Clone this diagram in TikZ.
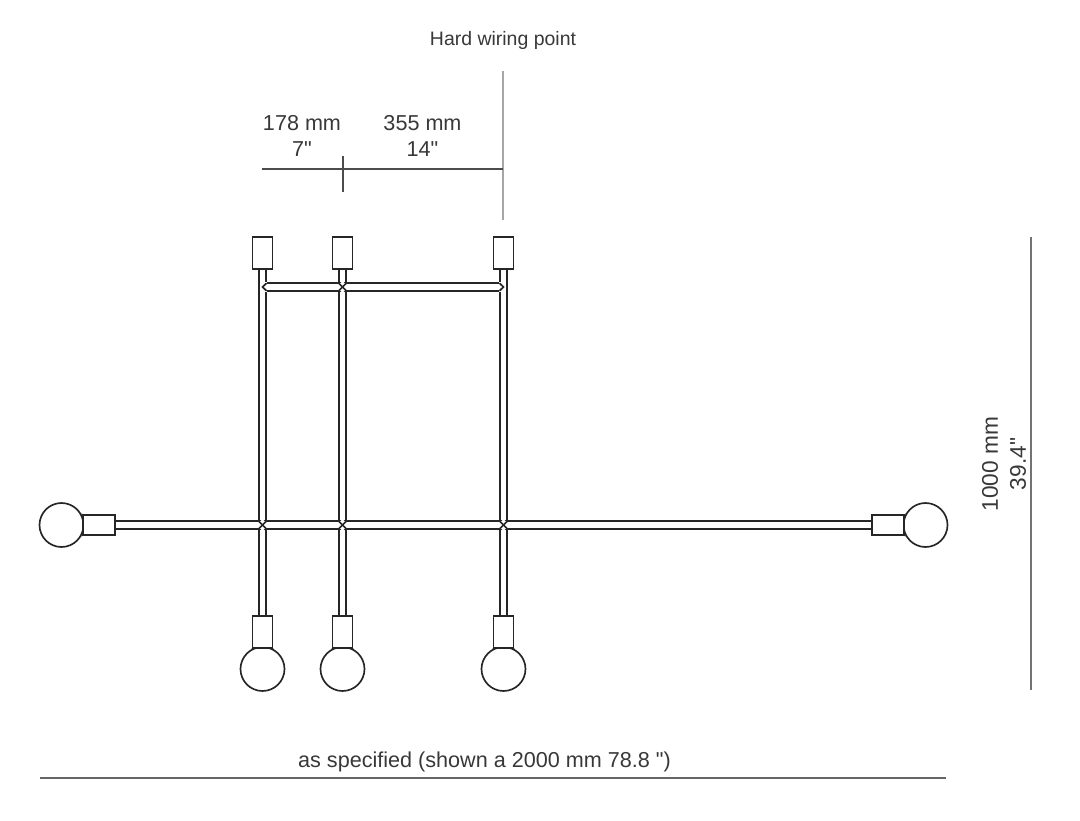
\documentclass[tikz,border=0pt]{standalone}
\usepackage{fontspec}
\setmainfont{Liberation Sans}[Ligatures=TeXOff]
\usetikzlibrary{positioning}
\usetikzlibrary{shapes.geometric}

\tikzset{
  wire/.style={draw=black!85,line width=1.25pt},
  rod/.style={wire,double=white,double distance=4.4pt,line cap=butt},
  socket/.style={shape=rectangle,wire,fill=white,inner sep=0pt},
  bulb/.style={shape=circle,wire,fill=white,inner sep=0pt,minimum size=33pt},
  joint/.style={shape=diamond,draw=none,fill=white,inner sep=0pt,minimum size=9pt},
  dimline/.style={draw=black!70,line width=1pt},
  wireline/.style={draw=black!35,line width=1pt},
  label/.style={inner sep=0pt,align=center,text=black!78,font=\fontsize{16.2}{20}\selectfont}
}

\begin{document}
\begin{tikzpicture}[x=0.75pt,y=-0.75pt]
\useasboundingbox (0,0) rectangle (1080,820);

% bulbs
\node[bulb] (bulbA) at (262.5,669) {};
\node[bulb] (bulbB) at (342.5,669) {};
\node[bulb] (bulbC) at (503.5,669) {};
\node[bulb] (bulbL) at (61.5,525) {};
\node[bulb] (bulbR) at (925.5,525) {};

% canopies and sockets
\node[socket,minimum width=15pt,minimum height=24pt] (canopyA) at (262.5,253) {};
\node[socket,minimum width=15pt,minimum height=24pt] (canopyB) at (342.5,253) {};
\node[socket,minimum width=15pt,minimum height=24pt] (canopyC) at (503.5,253) {};
\node[socket,minimum width=15pt,minimum height=24pt] (socketA) at (262.5,632) {};
\node[socket,minimum width=15pt,minimum height=24pt] (socketB) at (342.5,632) {};
\node[socket,minimum width=15pt,minimum height=24pt] (socketC) at (503.5,632) {};
\node[socket,minimum width=24pt,minimum height=15pt] (socketL) at (99,525) {};
\node[socket,minimum width=24pt,minimum height=15pt] (socketR) at (888,525) {};

% necks
\foreach \b/\s in {bulbA/socketA,bulbB/socketB,bulbC/socketC}{
  \draw[wire] (\b.118) -- (\s.south west);
  \draw[wire] (\b.62) -- (\s.south east);
}
\draw[wire] (bulbL.28) -- (socketL.north west);
\draw[wire] (bulbL.-28) -- (socketL.south west);
\draw[wire] (bulbR.152) -- (socketR.north east);
\draw[wire] (bulbR.-152) -- (socketR.south east);

% joints
\coordinate (topA) at (262.5,287);
\coordinate (topB) at (342.5,287);
\coordinate (topC) at (503.5,287);
\coordinate (midA) at (262.5,525);
\coordinate (midB) at (342.5,525);
\coordinate (midC) at (503.5,525);

\draw[rod] (canopyA) -- (socketA);
\draw[rod] (canopyB) -- (socketB);
\draw[rod] (canopyC) -- (socketC);
\draw[rod] (socketL) -- (socketR);
\draw[rod] (topA) -- (topC);

\foreach \j in {midA,midB,midC,topB}{
  \node[joint] (j\j) at (\j) {};
  \draw[wire] ([shift={(-4,-4)}]\j) -- ([shift={(4,4)}]\j);
  \draw[wire] ([shift={(4,-4)}]\j) -- ([shift={(-4,4)}]\j);
}

% bar ends
\fill[white] ([shift={(-1,-4.6)}]topA) rectangle ([shift={(4.8,4.6)}]topA);
\draw[wire] ([shift={(4,-3.8)}]topA) -- (topA) -- ([shift={(4,3.8)}]topA);
\fill[white] ([shift={(1,-4.6)}]topC) rectangle ([shift={(-4.8,4.6)}]topC);
\draw[wire] ([shift={(-4,-3.8)}]topC) -- (topC) -- ([shift={(-4,3.8)}]topC);

% dimensions
\node[label,font=\fontsize{14.6}{18}\selectfont] (hardwire) at (503,40) {Hard wiring point};
\node[label] (dimA) at (302,136) {178 mm\\7"};
\node[label] (dimB) at (422.5,136) {355 mm\\14"};
\node[label,rotate=90,font=\fontsize{17}{21}\selectfont] (dimH) at (1004,464) {1000 mm\\39.4"};
\node[label] (dimW) at (484.5,762) {as specified (shown a 2000 mm 78.8 ")};

\coordinate (wireT) at (503,71);
\coordinate (wireB) at (503,220);
\coordinate (tickT) at (343,156);
\coordinate (tickB) at (343,192);
\coordinate (spanL) at (262,169);
\coordinate (spanR) at (503,169);
\coordinate (heightT) at (1031,237);
\coordinate (heightB) at (1031,690);
\coordinate (widthL) at (40,778);
\coordinate (widthR) at (946,778);

\draw[wireline] (wireT) -- (wireB);
\draw[dimline] (tickT) -- (tickB);
\draw[dimline] (spanL) -- (spanR);
\draw[dimline,draw=black!55] (heightT) -- (heightB);
\draw[dimline,draw=black!60] (widthL) -- (widthR);
\end{tikzpicture}
\end{document}
